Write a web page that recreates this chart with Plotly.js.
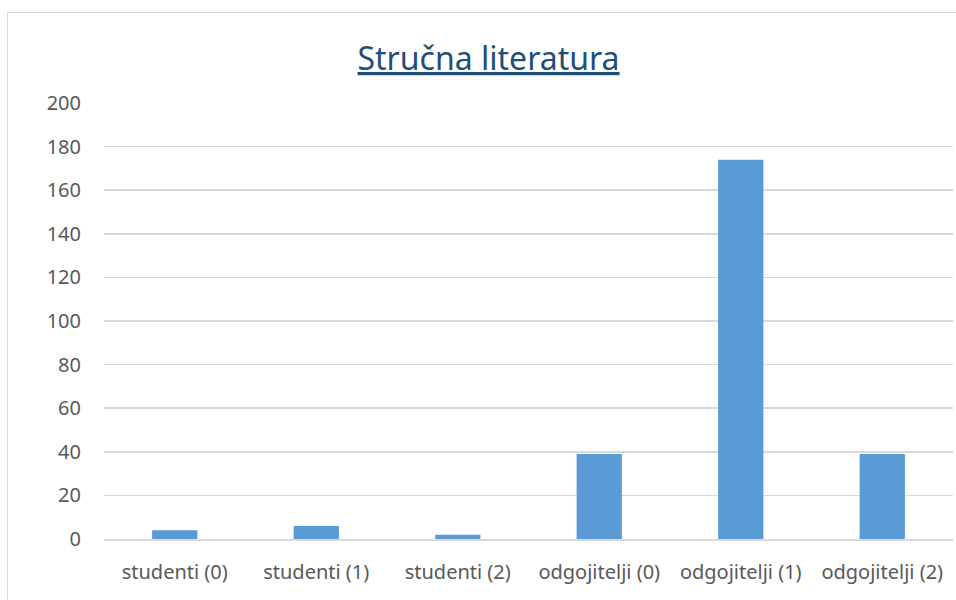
<!DOCTYPE html>
<html>
<head>
<meta charset="utf-8">
<script src="https://cdn.plot.ly/plotly-3.0.1.min.js"></script>
<style>
  html, body { margin: 0; padding: 0; background: #ffffff; overflow: hidden; }
  #chart { width: 956px; height: 600px; }
  #frame { position: absolute; left: 7px; top: 12px; width: 1000px; height: 700px;
           border: 1.5px solid #d9d9d9; pointer-events: none; }
</style>
</head>
<body>
<div id="chart"></div>
<div id="frame"></div>
<script>
const categories = ["studenti (0)", "studenti (1)", "studenti (2)", "odgojitelji (0)", "odgojitelji (1)", "odgojitelji (2)"];
const values = [4, 6, 2, 39, 174, 39];
const yTicks = [0, 20, 40, 60, 80, 100, 120, 140, 160, 180, 200];
const chartTitle = "Stručna literatura";

const trace = {
  type: "bar",
  x: categories,
  y: values,
  marker: { color: "#5b9bd5" },
  hoverinfo: "x+y"
};

const layout = {
  width: 956,
  height: 600,
  margin: { l: 104, r: 3, t: 103, b: 61 },
  paper_bgcolor: "#ffffff",
  plot_bgcolor: "#ffffff",
  showlegend: false,
  bargap: 0.68,
  font: { family: "Noto Sans, Open Sans, sans-serif", color: "#595959", size: 20 },
  title: {
    text: "<u>" + chartTitle + "</u>",
    x: 0.511,
    xanchor: "center",
    y: 0.902,
    yanchor: "middle",
    font: { family: "Noto Sans, Open Sans, sans-serif", size: 32, color: "#1f4e79" }
  },
  xaxis: {
    type: "category",
    showgrid: false,
    showline: true,
    linecolor: "#d9d9d9",
    linewidth: 1.5,
    ticks: "",
    ticklabelstandoff: 14,
    automargin: false,
    tickfont: { size: 20, color: "#595959" },
    fixedrange: true
  },
  yaxis: {
    range: [0, 200],
    tickmode: "array",
    tickvals: yTicks,
    ticktext: yTicks.map(String),
    showgrid: true,
    gridcolor: "#d9d9d9",
    gridwidth: 1.5,
    zeroline: false,
    showline: false,
    ticks: "",
    ticklabelstandoff: 22,
    automargin: false,
    tickfont: { size: 20, color: "#595959" },
    fixedrange: true
  }
};

Plotly.newPlot("chart", [trace], layout, { displayModeBar: false, staticPlot: true });
</script>
</body>
</html>
